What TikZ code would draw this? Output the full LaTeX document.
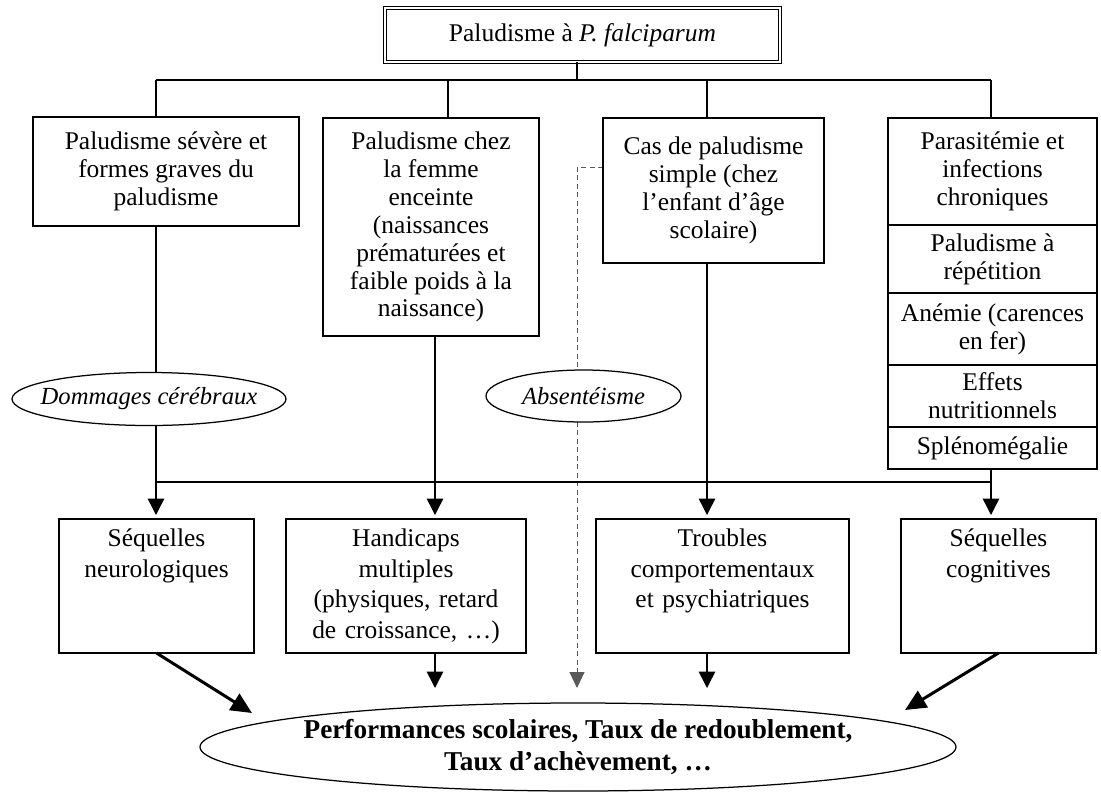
\documentclass[tikz,border=0pt]{standalone}
\usepackage{fontspec}
\setmainfont{Liberation Serif}
\usetikzlibrary{arrows.meta,positioning,shapes,backgrounds}

\begin{document}
\begin{tikzpicture}[x=0.2mm,y=-0.2mm,
    font=\fontsize{14.5}{15.9}\selectfont,
    box/.style={rectangle,draw,align=center,inner sep=0pt,outer sep=0pt,line width=0.25mm},
    seg/.style={box,minimum width=41.8mm},
    lowbox/.style={box,anchor=north,inner ysep=1.5mm,text height=4mm,text depth=19.8mm,font=\fontsize{14.5}{17.4}\selectfont},
    oval/.style={ellipse,draw,fill=white,inner ysep=0pt,inner xsep=-3mm,line width=0.25mm,font=\fontsize{14}{15}\selectfont\itshape},
    result/.style={ellipse,draw,fill=white,inner ysep=0pt,inner xsep=-4mm,line width=0.25mm,align=center,font=\fontsize{15.5}{18.2}\selectfont\bfseries},
    line/.style={line width=0.3mm},
    arr/.style={line,-{Triangle[length=3.3mm,width=3.3mm]},shorten >=0.8mm},
    dashline/.style={line width=0.2mm,gray!70!black,dash pattern=on 1mm off 0.7mm,-{Triangle[length=3.2mm,width=3mm]}},
    fat/.style={line width=0.6mm,-{Triangle[length=4.2mm,width=3.8mm]}}]
    \useasboundingbox (0,0) rectangle (1101,793);

    \node[box,double,double distance=0.35mm,line width=0.32mm,minimum width=79mm,minimum height=10.8mm] (top) at (582.5,35) {Paludisme à \textit{P. falciparum}};

    \node[box,minimum width=53.2mm,minimum height=21.8mm] (sev) at (166,171.5) {Paludisme sévère et\\formes graves du\\paludisme};
    \node[box,minimum width=43.2mm,minimum height=43.6mm] (fem) at (431,227) {Paludisme chez\\la femme\\enceinte\\(naissances\\prématurées et\\faible poids à la\\naissance)};
    \node[box,minimum width=44.2mm,minimum height=29mm] (simple) at (713.5,190.5) {Cas de paludisme\\simple (chez\\l’enfant d’âge\\scolaire)};

    % Chronic column
    \node[seg,minimum height=21.4mm] (para) at (992.5,171.5) {Parasitémie et\\infections\\chroniques};
    \node[seg,minimum height=13.6mm,below=0pt of para] (rep) {Paludisme à\\répétition};
    \node[seg,minimum height=14.4mm,below=0pt of rep] (anem) {Anémie (carences\\en fer)};
    \node[seg,minimum height=12.4mm,below=0pt of anem] (nutri) {Effets\\nutritionnels};
    \node[seg,minimum height=8.4mm,below=0pt of nutri] (splen) {Splénomégalie};

    \node[oval,minimum width=54.8mm,minimum height=10.6mm] (dommages) at (149,399) {Dommages cérébraux};
    \node[oval,minimum width=39mm,minimum height=10.4mm] (absent) at (583.5,396) {Absentéisme};

    % Consequences
    \node[lowbox,text width=39mm] (neuro) at (156.5,519) {Séquelles\\neurologiques};
    \node[lowbox,text width=48mm] (handi) at (406,519) {Handicaps\\multiples\\(physiques, retard\\de croissance, …)};
    \node[lowbox,text width=50.6mm] (troubles) at (722.5,519) {Troubles\\comportementaux\\et psychiatriques};
    \node[lowbox,text width=39mm] (cogn) at (998.5,519) {Séquelles\\cognitives};

    \node[result,minimum width=151.2mm,minimum height=17.6mm] (perf) at (578,747) {Performances scolaires, Taux de redoublement,\\Taux d’achèvement, …};

    \coordinate (k0) at (577,80);
    \coordinate (k1) at (156,80);
    \coordinate (k2) at (448,80);
    \coordinate (k3) at (707,80);
    \coordinate (k4) at (991,80);
    \coordinate (m1) at (156,482);
    \coordinate (m4) at (991,482);
    \coordinate (d0) at (577,167);
    \coordinate (tH) at (435,688);
    \coordinate (tD) at (577,688);
    \coordinate (tT) at (707,688);
    \coordinate (tL) at (252,713);
    \coordinate (tR) at (905,710);

    \draw[line] (top.south -| k0) -- (k0);
    \draw[line] (k1) -- (k4);
    \draw[line] (k1) -- (k1 |- sev.north);
    \draw[line] (k2) -- (k2 |- fem.north);
    \draw[line] (k3) -- (k3 |- simple.north);
    \draw[line] (k4) -- (k4 |- para.north);

    \begin{scope}[on background layer]
    \draw[line] (k1 |- sev.south) -- (m1);
    \draw[dashline] (simple.west |- d0) -- (d0) -- (tD);
    \end{scope}

    \draw[line] (m1) -- (m4);
    \draw[line] (m4 |- splen.south) -- (m4);
    \draw[arr] (m1) -- (m1 |- neuro.north);
    \draw[arr] (m4) -- (m4 |- cogn.north);
    \draw[arr] (tH |- fem.south) -- (tH |- handi.north);
    \draw[arr] (k3 |- simple.south) -- (k3 |- troubles.north);

    \draw[fat] (neuro.south) -- (tL);
    \draw[arr,shorten >=0pt] (handi.south -| tH) -- (tH);
    \draw[arr,shorten >=0pt] (troubles.south -| tT) -- (tT);
    \draw[fat] (cogn.south) -- (tR);
\end{tikzpicture}
\end{document}
